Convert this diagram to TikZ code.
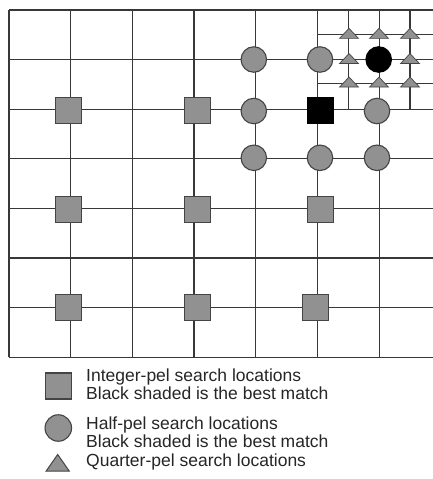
\documentclass[tikz,border=0pt]{standalone}
\usepackage{fontspec}
\setmainfont{Liberation Sans}
\usetikzlibrary{shapes.geometric,positioning}
\definecolor{gridline}{HTML}{383838}
\definecolor{pelfill}{HTML}{919191}
\definecolor{peledge}{HTML}{444444}

\begin{document}
\begin{tikzpicture}[x=1pt, y=-1pt,
    intpel/.style={draw=peledge, fill=pelfill, line width=1.1pt, minimum width=26pt, minimum height=26pt, inner sep=0pt},
    halfpel/.style={circle, draw=peledge, fill=pelfill, line width=1.1pt, minimum size=25.5pt, inner sep=0pt},
    qpel/.style={isosceles triangle, shape border rotate=90, isosceles triangle stretches, draw=peledge, fill=pelfill, line width=0.7pt, minimum width=19pt, minimum height=10pt, inner sep=0pt},
    keytext/.style={font=\fontsize{17.5}{18.5}\selectfont, text=black!85, anchor=base west, inner sep=0pt}]
    \useasboundingbox (0,0) rectangle (433,479);
    \fill[white] (0,0) rectangle (433,479);
    % full grid
    \foreach \i in {0,...,6}
      \draw[gridline, line width=1.3pt] (9+61.7*\i,10) -- (9+61.7*\i,357.2);
    \foreach \j in {0,...,7}
      \draw[gridline, line width=1.3pt] (9,10+49.6*\j) -- (433,10+49.6*\j);
    % quarter grid round the best half-pel
    \foreach \x in {348.4,410.1}
      \draw[gridline, line width=1.3pt] (\x,10) -- (\x,109.2);
    \foreach \y in {34.6,83.8}
      \draw[gridline, line width=1.3pt] (317.5,\y) -- (433,\y);
    % integer-pel locations
    \node[intpel] (i11) at (68.3,110.8) {};
    \node[intpel] (i12) at (197.5,110.8) {};
    \node[intpel, fill=black, draw=black] (ibest) at (320.5,110.8) {};
    \node[intpel] (i21) at (68.3,209.7) {};
    \node[intpel] (i22) at (197.5,209.7) {};
    \node[intpel] (i23) at (320.5,209.7) {};
    \node[intpel] (i31) at (68.3,307.3) {};
    \node[intpel] (i32) at (197.5,307.3) {};
    \node[intpel] (i33) at (315.8,307.3) {};
    % half-pel locations
    \node[halfpel] (h11) at (253.8,59.5) {};
    \node[halfpel] (h12) at (320,59.5) {};
    \node[halfpel, fill=black, draw=black] (hbest) at (378.7,59.5) {};
    \node[halfpel] (h21) at (253.8,111) {};
    \node[halfpel] (h23) at (377,111) {};
    \node[halfpel] (h31) at (253.8,157.8) {};
    \node[halfpel] (h32) at (320,157.8) {};
    \node[halfpel] (h33) at (377,157.8) {};
    % quarter-pel locations
    \node[qpel] (q11) at (349,34.3) {};
    \node[qpel] (q12) at (379,34.3) {};
    \node[qpel] (q13) at (410,34.3) {};
    \node[qpel] (q21) at (349,59.5) {};
    \node[qpel] (q23) at (410,59.5) {};
    \node[qpel] (q31) at (349,83) {};
    \node[qpel] (q32) at (379,83) {};
    \node[qpel] (q33) at (410,83) {};
    % key
    \node[intpel] (intkey) at (58.3,386) {};
    \node[halfpel, minimum size=26.5pt] (halfkey) at (58.3,428) {};
    \node[qpel, minimum width=23pt, minimum height=16.5pt, line width=1pt] (qkey) at (57.7,465) {};
    \node[keytext] (intline) at (86,381) {Integer-pel search locations};
    \node[keytext] (intbest) at (86,399.3) {Black shaded is the best match};
    \node[keytext] (halfline) at (86,429.3) {Half-pel search locations};
    \node[keytext] (halfbest) at (86,447.3) {Black shaded is the best match};
    \node[keytext] (qline) at (86,466.5) {Quarter-pel search locations};
  \end{tikzpicture}
\end{document}
